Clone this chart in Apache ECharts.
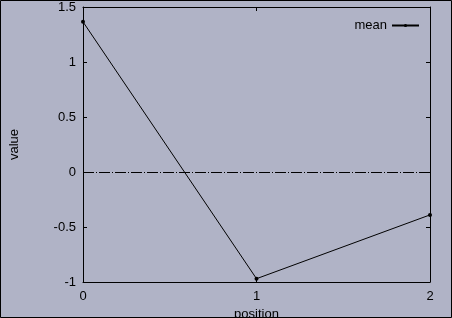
<!DOCTYPE html>
<html><head><meta charset="utf-8">
<script src="https://cdn.jsdelivr.net/npm/echarts@6/dist/echarts.min.js"></script>
<style>html,body{margin:0;padding:0;background:#b0b3c6}#c{width:452px;height:318px}</style>
</head><body><div id="c"></div>
<script>
var positions = [0, 1, 2];
var meanValues = [1.365, -0.97, -0.39];
var seriesName = 'mean';
var xTicks = [0, 1, 2];
var yTicks = [-1, -0.5, 0, 0.5, 1, 1.5];

var chart = echarts.init(document.getElementById('c'));
var font = 'Liberation Sans';
function axisCommon() {
  return {
    axisLine: {show: true, onZero: false, lineStyle: {color: '#000', width: 1}},
    axisTick: {show: true, inside: true, length: 4, lineStyle: {color: '#000'}},
    splitLine: {show: false}
  };
}
chart.setOption({
  backgroundColor: '#b0b3c6',
  animation: false,
  grid: {left: 83, top: 7, right: 22, bottom: 36, show: false, containLabel: false, outerBoundsMode: 'none'},
  legend: {
    data: [seriesName], right: 27, top: 14, align: 'right',
    itemWidth: 27, itemHeight: 4, itemGap: 8,
    textStyle: {fontFamily: font, fontSize: 13, color: '#000'}
  },
  xAxis: [
    Object.assign({type: 'value', min: xTicks[0], max: xTicks[xTicks.length-1], interval: 1,
      name: 'position', nameLocation: 'middle', nameGap: 17,
      nameTextStyle: {fontFamily: font, fontSize: 13, color: '#000'},
      axisLabel: {fontFamily: font, fontSize: 13, color: '#000', margin: 8}}, axisCommon()),
    Object.assign({type: 'value', position: 'top', min: xTicks[0], max: xTicks[xTicks.length-1], interval: 1,
      axisLabel: {show: false}}, axisCommon())
  ],
  yAxis: [
    Object.assign({type: 'value', min: yTicks[0], max: yTicks[yTicks.length-1], interval: 0.5,
      name: 'value', nameLocation: 'middle', nameGap: 62, nameRotate: 90,
      nameTextStyle: {fontFamily: font, fontSize: 13, color: '#000'},
      axisLabel: {fontFamily: font, fontSize: 13, color: '#000', margin: 7}}, axisCommon()),
    Object.assign({type: 'value', position: 'right', min: yTicks[0], max: yTicks[yTicks.length-1], interval: 0.5,
      axisLabel: {show: false}}, axisCommon())
  ],
  graphic: [{type: 'rect', shape: {x: 0.5, y: 0.5, width: 451, height: 317},
    style: {fill: 'transparent', stroke: '#000', lineWidth: 1}, silent: true, z: 100}],
  series: [{
    name: seriesName, type: 'line',
    data: positions.map(function(p, i){ return [p, meanValues[i]]; }),
    symbol: 'circle', symbolSize: 4, showSymbol: true,
    lineStyle: {color: '#000', width: 1},
    itemStyle: {color: '#000'},
    markLine: {
      silent: true, symbol: 'none', label: {show: false},
      lineStyle: {color: '#000', width: 1, type: [11, 2, 1, 2]},
      data: [{yAxis: 0}]
    }
  }]
});
</script></body></html>
